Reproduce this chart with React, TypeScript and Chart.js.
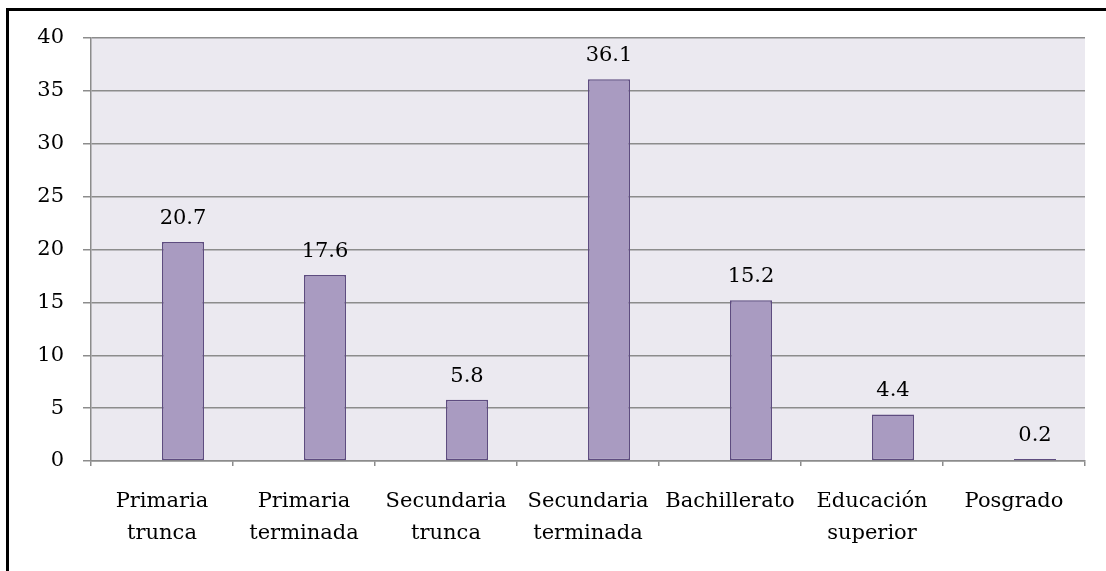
import React, { useEffect, useRef } from "react";
import { Chart, registerables } from "chart.js";

Chart.register(...registerables);

const categories: string[][] = [
  ["Primaria", "trunca"],
  ["Primaria", "terminada"],
  ["Secundaria", "trunca"],
  ["Secundaria", "terminada"],
  ["Bachillerato"],
  ["Educación", "superior"],
  ["Posgrado"],
];
const emptySeries: (number | null)[] = [null, null, null, null, null, null, null];
const values: number[] = [20.7, 17.6, 5.8, 36.1, 15.2, 4.4, 0.2];
const yMin = 0;
const yMax = 40;
const yStep = 5;

const FONT = "'DejaVu Serif', serif";
const FONT_SIZE = 21;

export default function App() {
  const ref = useRef<HTMLCanvasElement | null>(null);

  useEffect(() => {
    if (!ref.current) return;
    const bgPlugin = {
      id: "plotBg",
      beforeDraw(chart: any) {
        const { ctx, chartArea } = chart;
        ctx.save();
        ctx.fillStyle = "#EBE9F0";
        ctx.fillRect(chartArea.left, chartArea.top, chartArea.right - chartArea.left, chartArea.bottom - chartArea.top);
        ctx.restore();
      },
    };
    const labelPlugin = {
      id: "valueLabels",
      afterDatasetsDraw(chart: any) {
        const { ctx } = chart;
        const meta = chart.getDatasetMeta(1);
        ctx.save();
        ctx.font = `${FONT_SIZE}px ${FONT}`;
        ctx.fillStyle = "#000";
        ctx.textAlign = "center";
        ctx.textBaseline = "bottom";
        meta.data.forEach((bar: any, i: number) => {
          ctx.fillText(String(values[i]), bar.x, bar.y - 13);
        });
        ctx.restore();
      },
    };
    const chart = new Chart(ref.current, {
      type: "bar",
      data: {
        labels: categories,
        datasets: [
          {
            data: emptySeries,
            backgroundColor: "#A99BC1",
          },
          {
            data: values,
            backgroundColor: "#A99BC1",
            borderColor: "#5E4C80",
            borderWidth: 1.5,
            borderSkipped: false,
          },
        ],
      },
      options: {
        animation: false,
        responsive: false,
        maintainAspectRatio: false,
        layout: { padding: { left: 0, top: 38, right: 21, bottom: 0 } },
        plugins: {
          legend: { display: false },
          tooltip: { enabled: false },
        },
        datasets: {
          bar: { categoryPercentage: 0.592, barPercentage: 1 },
        },
        scales: {
          x: {
            grid: {
              offset: true,
              drawOnChartArea: false,
              drawTicks: true,
              tickLength: 5,
              color: "#8C8C8C",
              lineWidth: 1.5,
            },
            border: { display: true, color: "#8C8C8C", width: 1.5 },
            ticks: {
              color: "#000",
              font: { family: FONT, size: FONT_SIZE, lineHeight: 1.5 },
              padding: 20,
              maxRotation: 0,
              autoSkip: false,
            },
            afterFit(scale: any) {
              scale.height = 110;
            },
          },
          y: {
            min: yMin,
            max: yMax,
            ticks: {
              stepSize: yStep,
              color: "#000",
              font: { family: FONT, size: FONT_SIZE },
              padding: 19,
            },
            grid: {
              color: "#8C8C8C",
              lineWidth: 1.5,
              tickLength: 8,
            },
            border: { display: true, color: "#8C8C8C", width: 1.5 },
            afterFit(scale: any) {
              scale.width = 91;
            },
          },
        },
      },
      plugins: [bgPlugin, labelPlugin],
    });
    return () => chart.destroy();
  }, []);

  return (
    <div style={{ position: "fixed", left: 0, top: 0, width: 1106, height: 571, overflow: "hidden", background: "#fff" }}>
      <div
        style={{
          position: "absolute",
          left: 6,
          top: 8,
          width: 1120,
          height: 580,
          border: "3px solid #000",
          boxSizing: "border-box",
        }}
      />
      <canvas ref={ref} width={1106} height={571} style={{ position: "absolute", left: 0, top: 0 }} />
    </div>
  );
}
